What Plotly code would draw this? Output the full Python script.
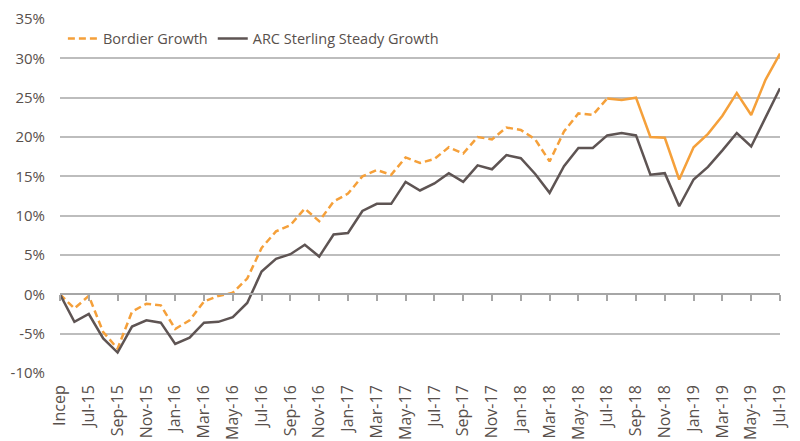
import plotly.graph_objects as go

months = ["Incep", "Jun-15", "Jul-15", "Aug-15", "Sep-15", "Oct-15", "Nov-15", "Dec-15",
          "Jan-16", "Feb-16", "Mar-16", "Apr-16", "May-16", "Jun-16", "Jul-16", "Aug-16",
          "Sep-16", "Oct-16", "Nov-16", "Dec-16", "Jan-17", "Feb-17", "Mar-17", "Apr-17",
          "May-17", "Jun-17", "Jul-17", "Aug-17", "Sep-17", "Oct-17", "Nov-17", "Dec-17",
          "Jan-18", "Feb-18", "Mar-18", "Apr-18", "May-18", "Jun-18", "Jul-18", "Aug-18",
          "Sep-18", "Oct-18", "Nov-18", "Dec-18", "Jan-19", "Feb-19", "Mar-19", "Apr-19",
          "May-19", "Jun-19", "Jul-19"]

bordier = [0.0, -1.8, -0.2, -4.8, -6.9, -2.2, -1.2, -1.4, -4.4, -3.3, -0.9, -0.2, 0.2,
           2.0, 5.9, 8.0, 8.8, 10.9, 9.3, 11.8, 12.8, 15.0, 15.8, 15.2, 17.4, 16.7, 17.2,
           18.7, 17.9, 20.0, 19.7, 21.2, 20.9, 19.7, 16.9, 20.7, 23.0, 22.8, 24.9, 24.7,
           25.0, 20.0, 19.9, 14.6, 18.7, 20.4, 22.7, 25.6, 22.8, 27.3, 30.6]

arc = [0.0, -3.5, -2.5, -5.6, -7.4, -4.1, -3.3, -3.6, -6.3, -5.5, -3.6, -3.5, -2.9,
       -1.1, 2.9, 4.5, 5.1, 6.3, 4.8, 7.6, 7.8, 10.6, 11.5, 11.5, 14.3, 13.2, 14.1,
       15.4, 14.3, 16.4, 15.9, 17.7, 17.3, 15.3, 12.9, 16.3, 18.6, 18.6, 20.2, 20.5,
       20.2, 15.2, 15.4, 11.2, 14.6, 16.2, 18.3, 20.5, 18.8, 22.6, 26.2]

split_idx = months.index("Jul-18")  # dashed up to here, solid afterwards

tick_labels = months[0::2]
y_ticks = [-10, -5, 0, 5, 10, 15, 20, 25, 30, 35]

ORANGE = "#F5A03A"
GREY = "#5E5453"
TEXT = "#58504c"
FONT = "Open Sans"

fig = go.Figure()

fig.add_trace(go.Scatter(
    x=months[:split_idx + 1], y=bordier[:split_idx + 1], mode="lines",
    name="Bordier Growth", line=dict(color=ORANGE, width=2.5, dash="7px,4px"),
    legendrank=1))
fig.add_trace(go.Scatter(
    x=months[split_idx:], y=bordier[split_idx:], mode="lines",
    name="Bordier Growth", line=dict(color=ORANGE, width=2.5), showlegend=False))
fig.add_trace(go.Scatter(
    x=months, y=arc, mode="lines", name="ARC Sterling Steady Growth",
    line=dict(color=GREY, width=2.5), legendrank=2))
# invisible trace that carries the zero-line category axis with tick marks
fig.add_trace(go.Scatter(
    x=months, y=[None] * len(months), xaxis="x2", mode="lines",
    showlegend=False, hoverinfo="skip"))

y_min, y_max = -10, 35
zero_pos = (0 - y_min) / (y_max - y_min)

fig.update_layout(
    width=800, height=441,
    margin=dict(l=60, r=20, t=19, b=68),
    plot_bgcolor="white", paper_bgcolor="white",
    font=dict(family=FONT, size=14.5, color=TEXT),
    showlegend=True,
    legend=dict(orientation="h", x=0.004, y=0.945, xanchor="left", yanchor="middle",
                bgcolor="rgba(255,255,255,0)", itemwidth=30,
                font=dict(family=FONT, size=14.5, color=TEXT)),
    xaxis=dict(type="category", categoryorder="array", categoryarray=months,
               range=[0, len(months) - 1], tickmode="array", tickvals=tick_labels,
               ticktext=tick_labels, tickangle=-90, showgrid=False, showline=False,
               zeroline=False, ticks="", ticklabelstandoff=8, automargin=False,
               tickfont=dict(family=FONT, size=16, color=TEXT)),
    xaxis2=dict(type="category", categoryorder="array", categoryarray=months,
                range=[0, len(months) - 1], overlaying="x", anchor="free",
                position=zero_pos, side="bottom", showline=True, linecolor="#a6a6a6",
                linewidth=1.5, ticks="outside", ticklen=6, tickwidth=1.5,
                tickcolor="#a6a6a6", tickmode="array", tickvals=tick_labels,
                showticklabels=False, showgrid=False, zeroline=False, automargin=False),
    yaxis=dict(range=[y_min, y_max], tickmode="array", tickvals=y_ticks,
               ticktext=[f"{v}%" for v in y_ticks], showgrid=True,
               gridcolor="#bdbdbd", gridwidth=1.5, zeroline=False, showline=False,
               ticks="", ticklabelstandoff=14, automargin=False,
               tickfont=dict(family=FONT, size=15, color=TEXT)),
)

fig.write_html("out.html", config={"displayModeBar": False},
               post_script="document.body.style.margin='0';document.body.style.padding='0';")
